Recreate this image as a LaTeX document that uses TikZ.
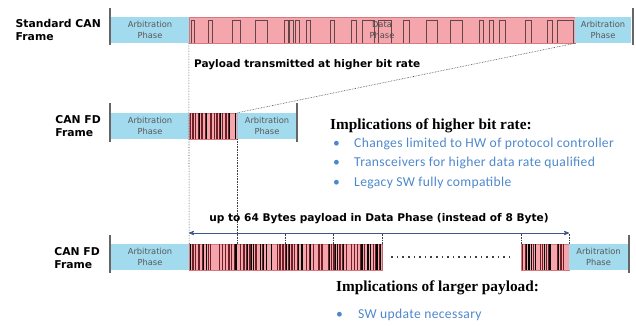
\documentclass[tikz,border=0pt]{standalone}
\usepackage{fontspec}
\usepackage{tikz}
\usetikzlibrary{arrows,positioning}
\newfontfamily\verdfont{DejaVu Sans}
\newfontfamily\calfont[LetterSpace=2.5]{Carlito}
\newfontfamily\cambfont{Liberation Serif}
\definecolor{arbblue}{RGB}{162,218,238}
\definecolor{datared}{RGB}{245,165,172}
\definecolor{redline}{RGB}{214,120,128}
\definecolor{pulsegray}{RGB}{100,70,72}
\definecolor{stripered}{RGB}{110,30,36}
\definecolor{spanblue}{RGB}{62,88,138}
\definecolor{itemblue}{RGB}{78,136,204}
% draw the dense bit pattern of a CAN FD data phase into node #1
\newcommand{\fdbits}[1]{%
  \begin{scope}
    \clip (#1.south west) rectangle (#1.north east);
    \foreach \k in {1,...,140} {
      \pgfmathrandominteger{\r}{0}{6}
      \ifnum\r>1
        \ifnum\r<5
          \draw[stripered,line width=.6pt] ([xshift=\k*1.5pt]#1.south west) -- ([xshift=\k*1.5pt]#1.north west);
        \else
          \draw[black,line width=1.2pt] ([xshift=\k*1.5pt]#1.south west) -- ([xshift=\k*1.5pt]#1.north west);
        \fi
      \fi
    }
  \end{scope}}

\begin{document}
\begin{tikzpicture}[x=1pt,y=-1pt
  ,>=stealth'
  ,inner sep=0pt]
  \tikzstyle{arb}=[fill=arbblue,minimum height=26,align=center
  ,text=black!65,font=\verdfont\fontsize{8.3}{10.5}\selectfont]
  \tikzstyle{data}=[fill=datared,draw=redline,minimum height=26
  ,align=center,text=black!70,font=\verdfont\fontsize{8.3}{10.5}\selectfont]
  \tikzstyle{frame label}=[anchor=east,align=left
  ,font=\verdfont\bfseries\fontsize{10.8}{13}\selectfont]
  \tikzstyle{bar}=[line width=1.4pt,black!60]
  \tikzstyle{guide}=[densely dotted,black!75,semithick]
  \tikzstyle{pulse}=[pulsegray,semithick]
  \tikzstyle{head}=[anchor=west,font=\cambfont\bfseries\fontsize{15.3}{17}\selectfont]
  \tikzstyle{item}=[anchor=west,text=itemblue,font=\calfont\fontsize{13.6}{16}\selectfont]
  \pgfmathsetseed{4}
  \useasboundingbox (0,0) rectangle (636,325);

  % standard CAN frame
  \node[frame label] (lab1) at (101,30) {Standard CAN\\Frame};
  \node[arb,minimum width=78] (arb1a) at (150,30) {Arbitration\\Phase};
  \node[data,minimum width=386] (dat1) at (382,30) {Data\\Phase};
  \node[arb,minimum width=56] (arb1b) at (603,30) {Arbitration\\Phase};
  \draw[bar] (110,8) -- (110,45);
  \draw[bar] (633,8) -- (633,45);
  \foreach \a/\b in {191/194,208/212,232/240,255/267,284/288,289/293,295/299
    ,306/310,330/334,351/356,362/374,378/391,403/409,426/437,450/462
    ,479/483,489/493,499/505,525/531,547/552,557/573}
    \draw[pulse] (\a,43) |- (\b,20) -- (\b,43);
  \node[anchor=west,font=\verdfont\bfseries\fontsize{10.5}{12}\selectfont]
    (pay) at (194,65) {Payload transmitted at higher bit rate};

  % CAN FD frame, short payload
  \node[frame label] (lab2) at (101,126) {CAN FD\\Frame};
  \node[arb,minimum width=78] (arb2a) at (150,126) {Arbitration\\Phase};
  \node[data,minimum width=48] (fd2) at (213,126) {};
  \node[arb,minimum width=60] (arb2b) at (267,126) {Arbitration\\Phase};
  \fdbits{fd2}
  \draw[bar] (110,103) -- (110,142);
  \draw[bar] (297,103) -- (297,142);

  % CAN FD frame, long payload
  \node[frame label] (lab3) at (100,258) {CAN FD\\Frame};
  \node[arb,minimum width=78] (arb3a) at (150,257) {Arbitration\\Phase};
  \node[data,minimum width=193] (fd3a) at (285.5,257) {};
  \node[data,minimum width=48] (fd3b) at (545,257) {};
  \node[arb,minimum width=59] (arb3b) at (598.5,257) {Arbitration\\Phase};
  \fdbits{fd3a}
  \fdbits{fd3b}
  \draw[bar] (110,235) -- (110,273);
  \draw[bar] (629,235) -- (629,273);
  \draw[black!75,line width=1.5pt,dash pattern=on 1.5pt off 4.1pt
    ,shorten <=9pt,shorten >=11pt] (fd3a.east) -- (fd3b.west);

  % guides between the frames
  \draw[guide] (dat1.south west) -- (arb3a.north east);
  \draw[guide] (fd2.south east) -- (fd2.south east |- fd3a.north);
  \draw[guide] (dat1.south east) -- (fd2.north east);
  \foreach \dx in {96,144}
    \draw[guide] ([xshift=\dx pt]fd3a.north west) -- ++(0,-11);
  \draw[guide] (fd3a.north east) -- ++(0,-11);
  \draw[guide] (fd3b.north west) -- ++(0,-11);
  \draw[guide] (fd3b.north east) -- ++(0,-11);

  % payload span
  \coordinate (spanL) at (189,233);
  \coordinate (spanR) at (569,233);
  \draw[<->,spanblue,thick] (spanL) -- (spanR)
    node[midway,above=9pt,text=black,font=\verdfont\bfseries\fontsize{10.6}{12}\selectfont]
    (span) {up to 64 Bytes payload in Data Phase (instead of 8 Byte)};

  % implications
  \node[head] (imp1) at (330,126) {Implications of higher bit rate:};
  \foreach \t [count=\i] in {Changes limited to HW of protocol controller
    ,Transceivers for higher data rate qualified
    ,Legacy SW fully compatible}
    \node[item] (it\i) at (333,124+\i*19.7) {\makebox[21pt][l]{•}\t};
  \node[head] (imp2) at (336,288) {Implications of larger payload:};
  \node[item] (it4) at (336,315) {\makebox[22pt][l]{•}SW update necessary};
\end{tikzpicture}
\end{document}
